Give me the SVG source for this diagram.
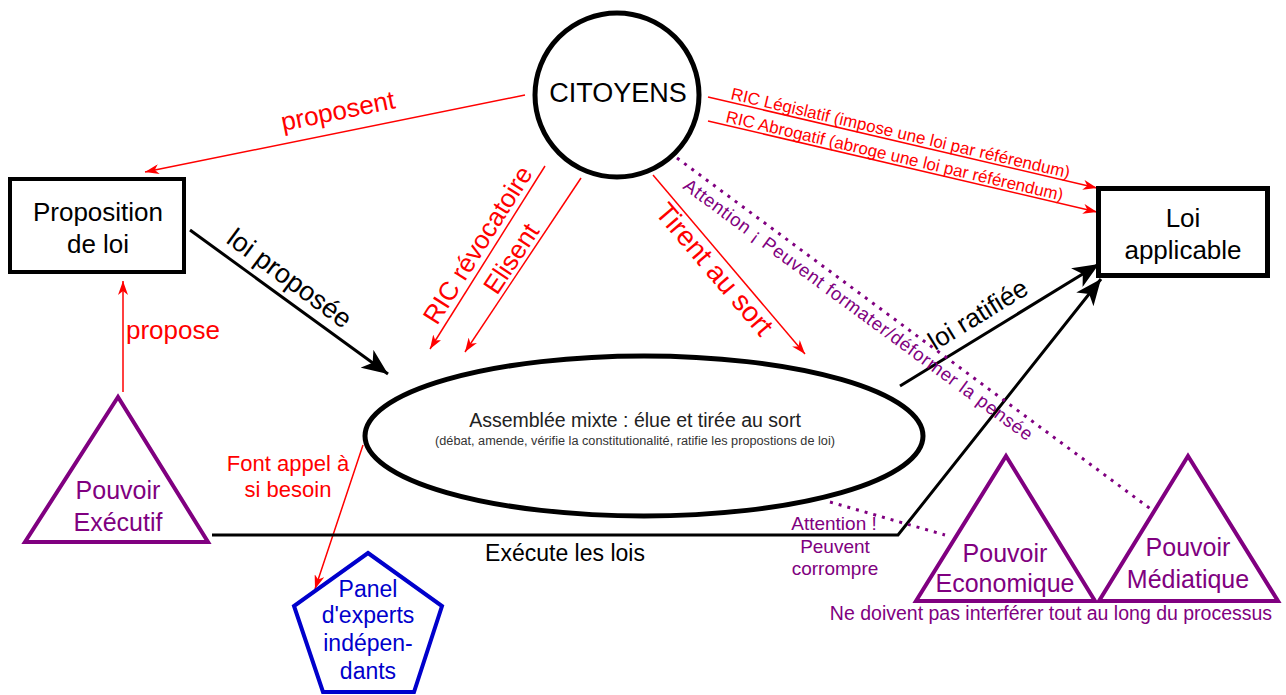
<svg xmlns="http://www.w3.org/2000/svg" width="1286" height="695" viewBox="0 0 1286 695">
<style>
text{font-family:"Liberation Sans",Arial,sans-serif}
.red{fill:#FF0000}
.pur{fill:#800080}
.blk{fill:#000}
.c{text-anchor:middle}
.rl{stroke:#FF0000;stroke-width:1.5;fill:none}
.bl{stroke:#000;stroke-width:3;fill:none}
.dot{stroke:#800080;stroke-width:3;stroke-dasharray:3 6;fill:none}
</style>
<defs>
<marker id="ar" viewBox="0 0 14 10" refX="14" refY="5" markerWidth="14" markerHeight="10" markerUnits="userSpaceOnUse" orient="auto"><path d="M0,0 L14,5 L0,10 L4,5 z" fill="#FF0000"/></marker>
<marker id="ab" viewBox="0 0 26 22" refX="26" refY="11" markerWidth="26" markerHeight="22" markerUnits="userSpaceOnUse" orient="auto"><path d="M0,0 L26,11 L0,22 L7,11 z" fill="#000"/></marker>
</defs>
<rect width="1286" height="695" fill="#fff"/>

<g id="connectors">
<line class="rl" x1="525" y1="95" x2="145" y2="172" marker-end="url(#ar)"/>
<line class="rl" x1="123" y1="392" x2="123" y2="281" marker-end="url(#ar)"/>
<line class="rl" x1="545" y1="166" x2="430" y2="349" marker-end="url(#ar)"/>
<line class="rl" x1="581" y1="178" x2="465" y2="352" marker-end="url(#ar)"/>
<line class="rl" x1="653" y1="175" x2="805" y2="354" marker-end="url(#ar)"/>
<line class="rl" x1="708" y1="97" x2="1097" y2="188" marker-end="url(#ar)"/>
<line class="rl" x1="708" y1="121" x2="1097" y2="212" marker-end="url(#ar)"/>
<line class="rl" x1="363" y1="445" x2="315" y2="589" marker-end="url(#ar)"/>
<line class="bl" x1="190" y1="230" x2="388" y2="374" marker-end="url(#ab)"/>
<line class="bl" x1="900" y1="386" x2="1099" y2="264" marker-end="url(#ab)"/>
<polyline class="bl" points="212,535 898,535 1101,279" marker-end="url(#ab)"/>
<line class="dot" x1="677" y1="158" x2="1152" y2="510"/>
<line class="dot" x1="830" y1="502" x2="945" y2="535"/>

<text class="red" font-size="26" transform="translate(283,131) rotate(-11.45)">proposent</text>
<text class="red" font-size="26" x="126" y="339">propose</text>
<text class="red" font-size="26" transform="translate(437,326) rotate(-57.7)">RIC révocatoire</text>
<text class="red" font-size="26" transform="translate(497,296) rotate(-56.3)">Elisent</text>
<text class="red" font-size="28" transform="translate(654,213) rotate(49.5)">Tirent au sort</text>
<text class="red" font-size="17" transform="translate(730,99) rotate(13.2)">RIC Législatif (impose une loi par référendum)</text>
<text class="red" font-size="17" transform="translate(725,122) rotate(13.17)">RIC Abrogatif (abroge une loi par référendum)</text>
<text class="pur" font-size="18.5" transform="translate(682,188) rotate(36.3)" textLength="428" lengthAdjust="spacing">Attention ¡ Peuvent formater/déformer la pensée</text>
<text class="blk" font-size="27" transform="translate(225,242) rotate(36.4)">loi proposée</text>
<text class="blk" font-size="26" transform="translate(935,351) rotate(-31.4)">loi ratifiée</text>
<text class="blk c" font-size="23" x="565" y="561">Exécute les lois</text>
<text class="red c" font-size="22" x="288" y="471">Font appel à</text>
<text class="red c" font-size="22" x="288" y="497">si besoin</text>
<text class="pur c" font-size="19" x="834" y="530">Attention !</text>
<text class="pur c" font-size="19" x="835" y="553">Peuvent</text>
<text class="pur c" font-size="19" x="835" y="575">corrompre</text>
</g>

<g id="citoyens">
<circle cx="617" cy="95" r="82" fill="#fff" stroke="#000" stroke-width="5"/>
<text class="blk c" font-size="27" x="618" y="102">CITOYENS</text>
</g>

<g id="proposition">
<rect x="10" y="179" width="174" height="93" fill="#fff" stroke="#000" stroke-width="4"/>
<text class="blk c" font-size="26" x="98" y="221">Proposition</text>
<text class="blk c" font-size="26" x="98" y="253">de loi</text>
</g>

<g id="loi-applicable">
<rect x="1098.5" y="188.5" width="169" height="87" fill="#fff" stroke="#000" stroke-width="5"/>
<text class="blk c" font-size="26" x="1183" y="227">Loi</text>
<text class="blk c" font-size="26" x="1183" y="259">applicable</text>
</g>

<g id="assemblee">
<ellipse cx="644" cy="436" rx="279" ry="80" fill="#fff" stroke="#000" stroke-width="5"/>
<text class="c" font-size="19.5" fill="#222" x="635" y="427">Assemblée mixte : élue et tirée au sort</text>
<text class="c" font-size="12.5" fill="#333" x="635" y="445" textLength="400" lengthAdjust="spacingAndGlyphs">(débat, amende, vérifie la constitutionalité, ratifie les propostions de loi)</text>
</g>

<g id="executif">
<polygon points="118,397 25,542 208,542" fill="#fff" stroke="#800080" stroke-width="4"/>
<text class="pur c" font-size="25" x="118" y="499">Pouvoir</text>
<text class="pur c" font-size="25" x="118" y="531">Exécutif</text>
</g>

<g id="panel">
<polygon points="368,553 442,606 414,692 323,692 294,606" fill="#fff" stroke="#0000CC" stroke-width="4"/>
<text class="c" fill="#0000CC" font-size="23" x="368" y="597">Panel</text>
<text class="c" fill="#0000CC" font-size="23" x="368" y="623">d'experts</text>
<text class="c" fill="#0000CC" font-size="23" x="368" y="651">indépen-</text>
<text class="c" fill="#0000CC" font-size="23" x="368" y="679">dants</text>
</g>

<g id="economique">
<polygon points="1006,456 916,601 1095,601" fill="#fff" stroke="#800080" stroke-width="4"/>
<text class="pur c" font-size="25" x="1005" y="562">Pouvoir</text>
<text class="pur c" font-size="25" x="1005" y="592">Economique</text>
</g>

<g id="mediatique">
<polygon points="1188,456 1099,601 1278,601" fill="#fff" stroke="#800080" stroke-width="4"/>
<text class="pur c" font-size="25" x="1188" y="556">Pouvoir</text>
<text class="pur c" font-size="25" x="1188" y="588">Médiatique</text>
</g>

<g id="note">
<text class="pur c" font-size="19.5" x="1051" y="620">Ne doivent pas interférer tout au long du processus</text>
</g>
</svg>
